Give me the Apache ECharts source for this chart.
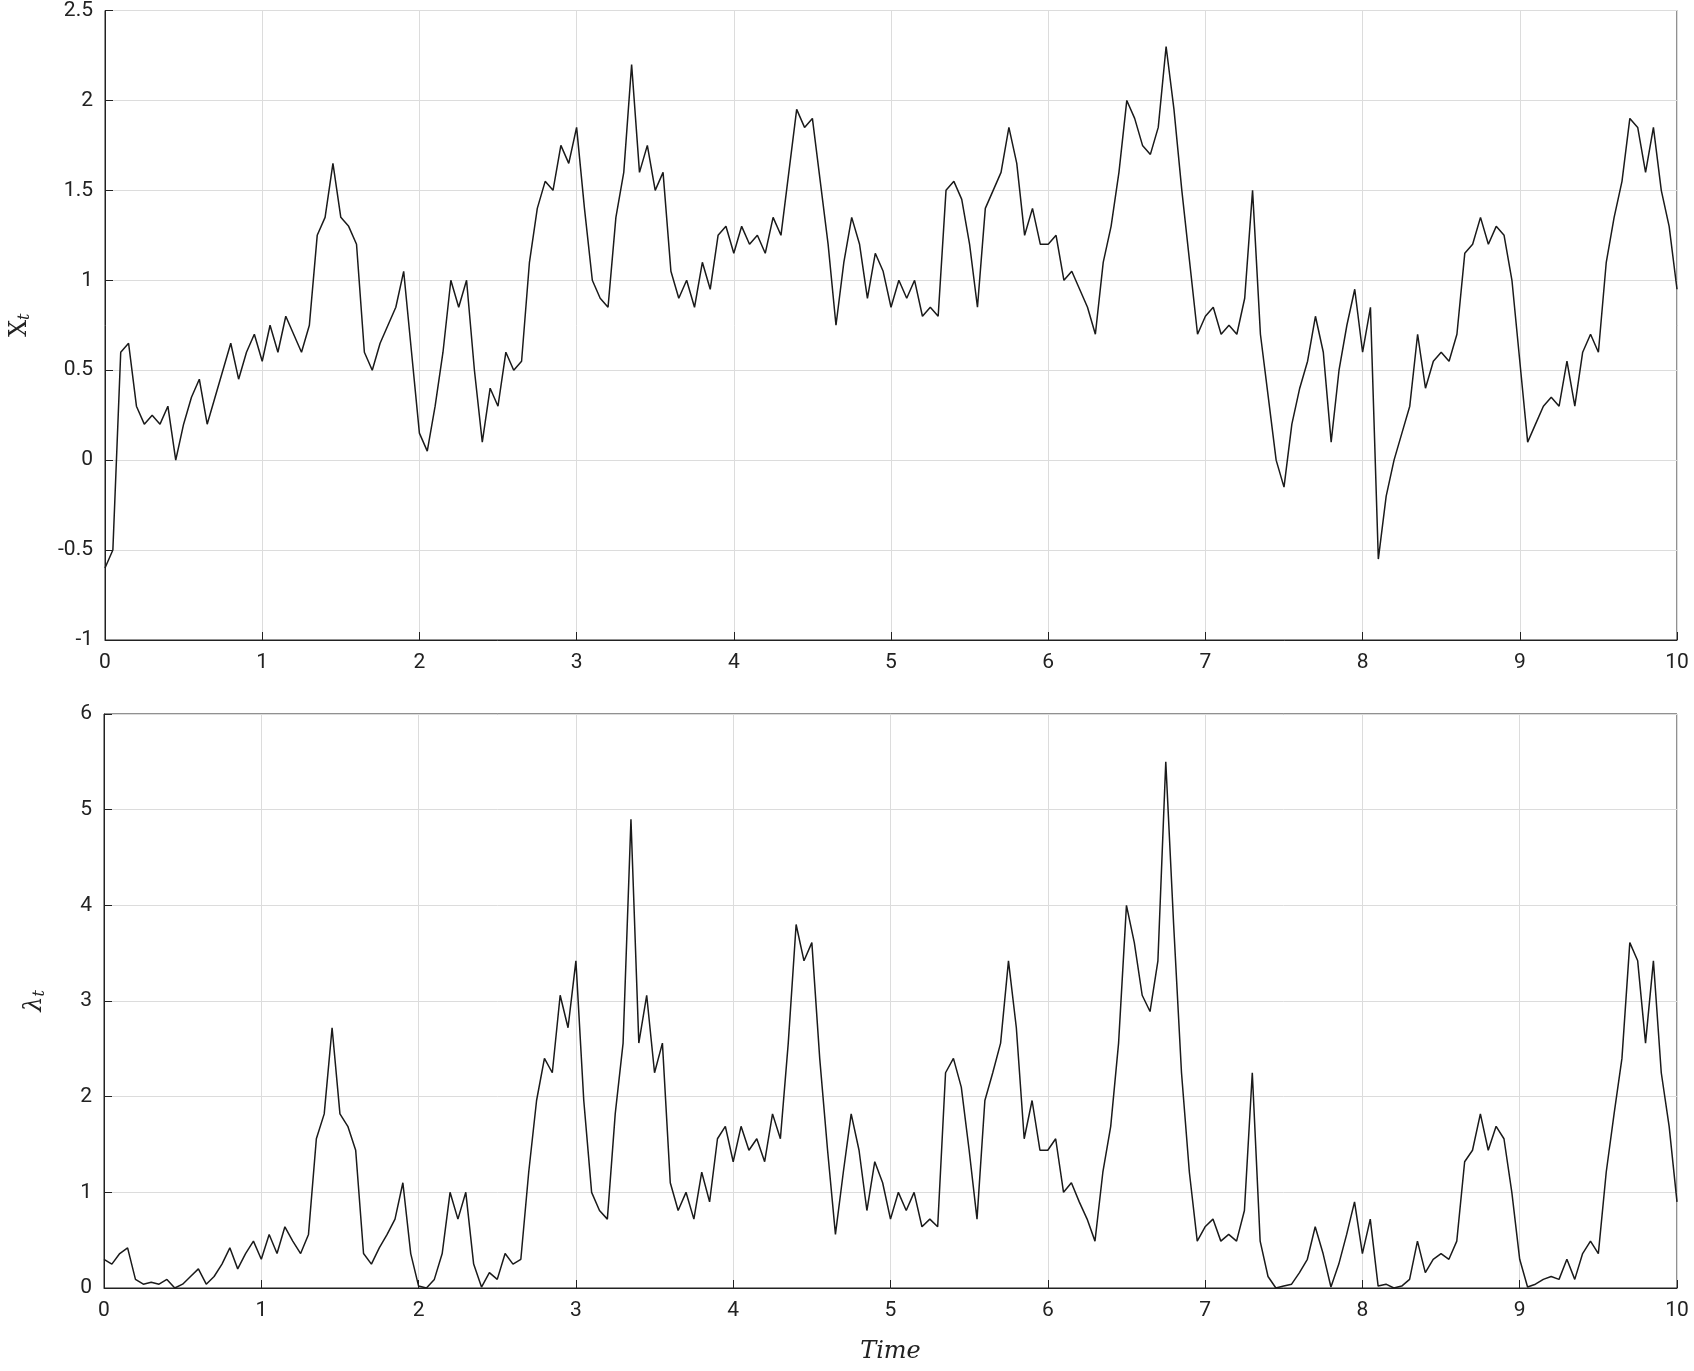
<!DOCTYPE html>
<html><head><meta charset="utf-8">
<script src="https://cdn.jsdelivr.net/npm/echarts@6/dist/echarts.min.js"></script>
<style>html,body{margin:0;padding:0;background:#fff}#c{width:1694px;height:1371px}</style>
</head><body><div id="c"></div>
<script>
const timeStep = 0.05;
const xValues = [-0.6,-0.5,0.6,0.65,0.3,0.2,0.25,0.2,0.3,0.0,0.2,0.35,0.45,0.2,0.35,0.5,0.65,0.45,0.6,0.7,
0.55,0.75,0.6,0.8,0.7,0.6,0.75,1.25,1.35,1.65,1.35,1.3,1.2,0.6,0.5,0.65,0.75,0.85,1.05,0.6,
0.15,0.05,0.3,0.6,1.0,0.85,1.0,0.5,0.1,0.4,0.3,0.6,0.5,0.55,1.1,1.4,1.55,1.5,1.75,1.65,
1.85,1.4,1.0,0.9,0.85,1.35,1.6,2.2,1.6,1.75,1.5,1.6,1.05,0.9,1.0,0.85,1.1,0.95,1.25,1.3,
1.15,1.3,1.2,1.25,1.15,1.35,1.25,1.6,1.95,1.85,1.9,1.55,1.2,0.75,1.1,1.35,1.2,0.9,1.15,1.05,
0.85,1.0,0.9,1.0,0.8,0.85,0.8,1.5,1.55,1.45,1.2,0.85,1.4,1.5,1.6,1.85,1.65,1.25,1.4,1.2,
1.2,1.25,1.0,1.05,0.95,0.85,0.7,1.1,1.3,1.6,2.0,1.9,1.75,1.7,1.85,2.3,1.95,1.5,1.1,0.7,
0.8,0.85,0.7,0.75,0.7,0.9,1.5,0.7,0.35,0.0,-0.15,0.2,0.4,0.55,0.8,0.6,0.1,0.5,0.75,0.95,
0.6,0.85,-0.55,-0.2,0.0,0.15,0.3,0.7,0.4,0.55,0.6,0.55,0.7,1.15,1.2,1.35,1.2,1.3,1.25,1.0,
0.55,0.1,0.2,0.3,0.35,0.3,0.55,0.3,0.6,0.7,0.6,1.1,1.35,1.55,1.9,1.85,1.6,1.85,1.5,1.3,
0.95];
const lambdaValues = [0.3,0.25,0.36,0.42,0.09,0.04,0.06,0.04,0.09,0.0,0.04,0.12,0.2,0.04,0.12,0.25,0.42,0.2,0.36,0.49,
0.3,0.56,0.36,0.64,0.49,0.36,0.56,1.56,1.82,2.72,1.82,1.69,1.44,0.36,0.25,0.42,0.56,0.72,1.1,0.36,
0.02,0.0,0.09,0.36,1.0,0.72,1.0,0.25,0.01,0.16,0.09,0.36,0.25,0.3,1.21,1.96,2.4,2.25,3.06,2.72,
3.42,1.96,1.0,0.81,0.72,1.82,2.56,4.9,2.56,3.06,2.25,2.56,1.1,0.81,1.0,0.72,1.21,0.9,1.56,1.69,
1.32,1.69,1.44,1.56,1.32,1.82,1.56,2.56,3.8,3.42,3.61,2.4,1.44,0.56,1.21,1.82,1.44,0.81,1.32,1.1,
0.72,1.0,0.81,1.0,0.64,0.72,0.64,2.25,2.4,2.1,1.44,0.72,1.96,2.25,2.56,3.42,2.72,1.56,1.96,1.44,
1.44,1.56,1.0,1.1,0.9,0.72,0.49,1.21,1.69,2.56,4.0,3.61,3.06,2.89,3.42,5.5,3.8,2.25,1.21,0.49,
0.64,0.72,0.49,0.56,0.49,0.81,2.25,0.49,0.12,0.0,0.02,0.04,0.16,0.3,0.64,0.36,0.01,0.25,0.56,0.9,
0.36,0.72,0.02,0.04,0.0,0.02,0.09,0.49,0.16,0.3,0.36,0.3,0.49,1.32,1.44,1.82,1.44,1.69,1.56,1.0,
0.3,0.01,0.04,0.09,0.12,0.09,0.3,0.09,0.36,0.49,0.36,1.21,1.82,2.4,3.61,3.42,2.56,3.42,2.25,1.69,
0.9];
const xTicks = [0,1,2,3,4,5,6,7,8,9,10];

const pairs = v => v.map((y,i)=>[+(i*timeStep).toFixed(2), y]);
const font = 'Roboto, Arial, sans-serif';
const axisLabel = {color:'#222', fontSize:21, fontFamily:font, margin:12};
const split = {show:true, lineStyle:{color:'#dcdcdc', width:1}};
function xAx(idx){return {type:'value', gridIndex:idx, min:xTicks[0], max:xTicks[xTicks.length-1], interval:1,
  axisLine:{onZero:false,lineStyle:{color:'#222'}}, axisTick:{inside:true,length:8,lineStyle:{color:'#222'}},
  axisLabel:axisLabel, splitLine:split};}
const chart = echarts.init(document.getElementById('c'));
chart.setOption({
  animation:false,
  grid:[{left:104,right:17,top:9,height:631,show:true,borderColor:'#222',borderWidth:1},
        {left:104,right:17,top:714,height:574,show:true,borderColor:'#222',borderWidth:1}],
  xAxis:[xAx(0), Object.assign(xAx(1),{name:'Time',nameLocation:'middle',nameGap:52,
     nameTextStyle:{fontFamily:'DejaVu Serif, serif',fontStyle:'italic',fontSize:24,color:'#222'}})],
  yAxis:[{type:'value',gridIndex:0,min:-1,max:2.5,interval:0.5,axisLine:{show:true,onZero:false,lineStyle:{color:'#222'}},
     axisTick:{inside:true,length:8},axisLabel:axisLabel,splitLine:split,
     name:'{a|X}{b|t}',nameLocation:'middle',nameGap:72,nameRotate:90,
     nameTextStyle:{rich:{a:{fontFamily:'DejaVu Serif, serif',fontSize:24,color:'#222'},b:{fontFamily:'DejaVu Serif, serif',fontStyle:'italic',fontSize:16,verticalAlign:'bottom',padding:[10,0,0,0],color:'#222'}}}},
    {type:'value',gridIndex:1,min:0,max:6,interval:1,axisLine:{show:true,onZero:false,lineStyle:{color:'#222'}},
     axisTick:{inside:true,length:8},axisLabel:axisLabel,splitLine:split,
     name:'{a|λ}{b|t}',nameLocation:'middle',nameGap:56,nameRotate:90,
     nameTextStyle:{rich:{a:{fontFamily:'DejaVu Serif, serif',fontStyle:'italic',fontSize:24,color:'#222'},b:{fontFamily:'DejaVu Serif, serif',fontStyle:'italic',fontSize:16,padding:[10,0,0,0],color:'#222'}}}}],
  series:[
    {type:'line',xAxisIndex:0,yAxisIndex:0,data:pairs(xValues),showSymbol:false,lineStyle:{color:'#1a1a1a',width:1.5}},
    {type:'line',xAxisIndex:1,yAxisIndex:1,data:pairs(lambdaValues),showSymbol:false,lineStyle:{color:'#1a1a1a',width:1.5}}
  ]
});
</script></body></html>
